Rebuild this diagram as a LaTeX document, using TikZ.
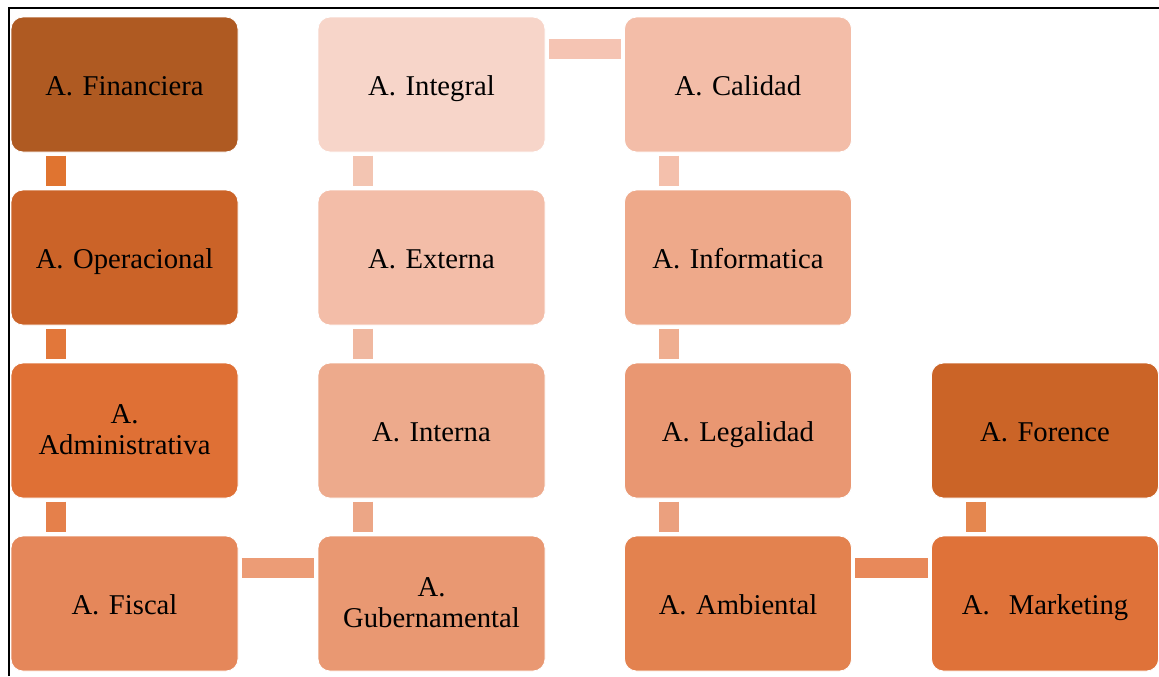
\documentclass[tikz,border=0pt]{standalone}
\usepackage{fontspec}
\setmainfont{Liberation Serif}
\newcommand{\topline}{\rule{0pt}{19pt}}
\begin{document}
\begin{tikzpicture}[x=0.75pt,y=-0.75pt,
  box/.style={rectangle, rounded corners=9pt, draw=white, line width=0.6pt,
    minimum width=170.25pt, minimum height=101.25pt, inner sep=2pt,
    align=center, text width=165pt,
    font=\fontsize{21.5}{23.25}\selectfont},
  one/.style={box, text depth=0pt},
  two/.style={box},
  bar/.style={line width=15pt, shorten >=2.5pt, shorten <=2.5pt},
  vshift/.style={xshift=33.75pt},
  hshift/.style={yshift=-24pt}]
\useasboundingbox (0,0) rectangle (1159,676);
% page frame
\draw[line width=2pt] (9,676) -- (9,8) -- (1159,8);

% column 1
\node[one, fill={rgb,255:red,175;green,90;blue,34}]  (fin) at (124.5,84.5)  {\strut A. Financiera};
\node[one, fill={rgb,255:red,203;green,99;blue,40}]  (ope) at (124.5,257.5) {\strut A. Operacional};
\node[two, fill={rgb,255:red,223;green,112;blue,53}] (adm) at (124.5,430.5) {\topline A.\\\strut Administrativa};
\node[one, fill={rgb,255:red,229;green,135;blue,90}] (fis) at (124.5,603.5) {\strut A. Fiscal};
% column 2
\node[one, fill={rgb,255:red,247;green,213;blue,201}] (int) at (431.5,84.5)  {\strut A. Integral};
\node[one, fill={rgb,255:red,243;green,189;blue,168}] (ext) at (431.5,257.5) {\strut A. Externa};
\node[one, fill={rgb,255:red,237;green,170;blue,140}] (inn) at (431.5,430.5) {\strut A. Interna};
\node[two, fill={rgb,255:red,233;green,152;blue,114}] (gub) at (431.5,603.5) {\topline A.\\\strut Gubernamental};
% column 3
\node[one, fill={rgb,255:red,243;green,189;blue,168}] (cal) at (738,84.5)  {\strut A. Calidad};
\node[one, fill={rgb,255:red,238;green,169;blue,138}] (inf) at (738,257.5) {\strut A. Informatica};
\node[one, fill={rgb,255:red,233;green,151;blue,114}] (leg) at (738,430.5) {\strut A. Legalidad};
\node[one, fill={rgb,255:red,227;green,130;blue,79}]  (amb) at (738,603.5) {\strut A. Ambiental};
% column 4
\node[one, fill={rgb,255:red,203;green,100;blue,39}]  (for) at (1045,430.5) {\strut A. Forence};
\node[one, fill={rgb,255:red,223;green,114;blue,57}]  (mar) at (1045,603.5) {\strut A.\ \ Marketing};

% connectors
\draw[bar, draw={rgb,255:red,224;green,116;blue,48}] ([vshift]fin.south west) -- ([vshift]ope.north west);
\draw[bar, draw={rgb,255:red,226;green,119;blue,58}] ([vshift]ope.south west) -- ([vshift]adm.north west);
\draw[bar, draw={rgb,255:red,229;green,128;blue,75}] ([vshift]adm.south west) -- ([vshift]fis.north west);
\draw[bar, draw={rgb,255:red,236;green,156;blue,118}] ([hshift]fis.north east) -- ([hshift]gub.north west);
\draw[bar, draw={rgb,255:red,243;green,197;blue,178}] ([vshift]int.south west) -- ([vshift]ext.north west);
\draw[bar, draw={rgb,255:red,240;green,184;blue,160}] ([vshift]ext.south west) -- ([vshift]inn.north west);
\draw[bar, draw={rgb,255:red,236;green,166;blue,134}] ([vshift]inn.south west) -- ([vshift]gub.north west);
\draw[bar, draw={rgb,255:red,245;green,196;blue,179}] ([hshift]int.north east) -- ([hshift]cal.north west);
\draw[bar, draw={rgb,255:red,244;green,192;blue,172}] ([vshift]cal.south west) -- ([vshift]inf.north west);
\draw[bar, draw={rgb,255:red,239;green,174;blue,144}] ([vshift]inf.south west) -- ([vshift]leg.north west);
\draw[bar, draw={rgb,255:red,235;green,160;blue,126}] ([vshift]leg.south west) -- ([vshift]amb.north west);
\draw[bar, draw={rgb,255:red,232;green,137;blue,90}] ([hshift]amb.north east) -- ([hshift]mar.north west);
\draw[bar, draw={rgb,255:red,229;green,135;blue,79}] ([vshift]for.south west) -- ([vshift]mar.north west);
\end{tikzpicture}
\end{document}
